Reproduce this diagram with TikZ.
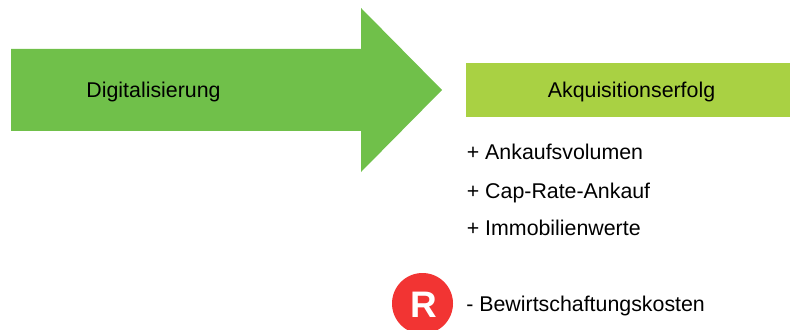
\documentclass[tikz,border=0pt]{standalone}
\usepackage{fontspec}
\setmainfont{Liberation Sans}
\usepackage{tikz}
\definecolor{arrowgreen}{HTML}{70C04A}
\definecolor{boxgreen}{HTML}{A9D143}
\definecolor{badgered}{HTML}{F23433}

\begin{document}
\begin{tikzpicture}
	\tikzstyle{item} = [anchor=base west, inner sep=0pt, font=\fontsize{12.15}{14}\selectfont]
	\tikzstyle{title} = [anchor=base, inner sep=0pt, font=\fontsize{12.15}{14}\selectfont]
	\useasboundingbox (0,0) rectangle (15.8,6.58);
	\coordinate (A) at (0.22,5.6);
	\coordinate (B) at (7.22,5.6);
	\coordinate (C) at (7.22,6.42);
	\coordinate (D) at (8.84,4.78);
	\coordinate (E) at (7.22,3.14);
	\coordinate (F) at (7.22,3.96);
	\coordinate (G) at (0.22,3.96);
	\fill[arrowgreen] (A) -- (B) -- (C) -- (D) -- (E) -- (F) -- (G) -- cycle;
	\fill[boxgreen] (9.32,5.32) rectangle (15.8,4.24);
	\begin{scope}
		\clip (0,0) rectangle (15.8,6.58);
		\fill[badgered] (8.45,0.51) circle (0.61);
	\end{scope}
	\node[title] (digital) at (3.07,4.63) {Digitalisierung};
	\node[title] (erfolg) at (12.63,4.63) {Akquisitionserfolg};
	\node[item] (volumen) at (9.33,3.39) {+ Ankaufsvolumen};
	\node[item] (caprate) at (9.33,2.62) {+ Cap-Rate-Ankauf};
	\node[item] (werte) at (9.33,1.87) {+ Immobilienwerte};
	\node[item] (kosten) at (9.32,0.36) {- Bewirtschaftungskosten};
	\node[anchor=center, inner sep=0pt, text=white, font=\fontsize{21}{24}\selectfont\bfseries] (rlabel) at (8.48,0.48) {R};
\end{tikzpicture}
\end{document}
